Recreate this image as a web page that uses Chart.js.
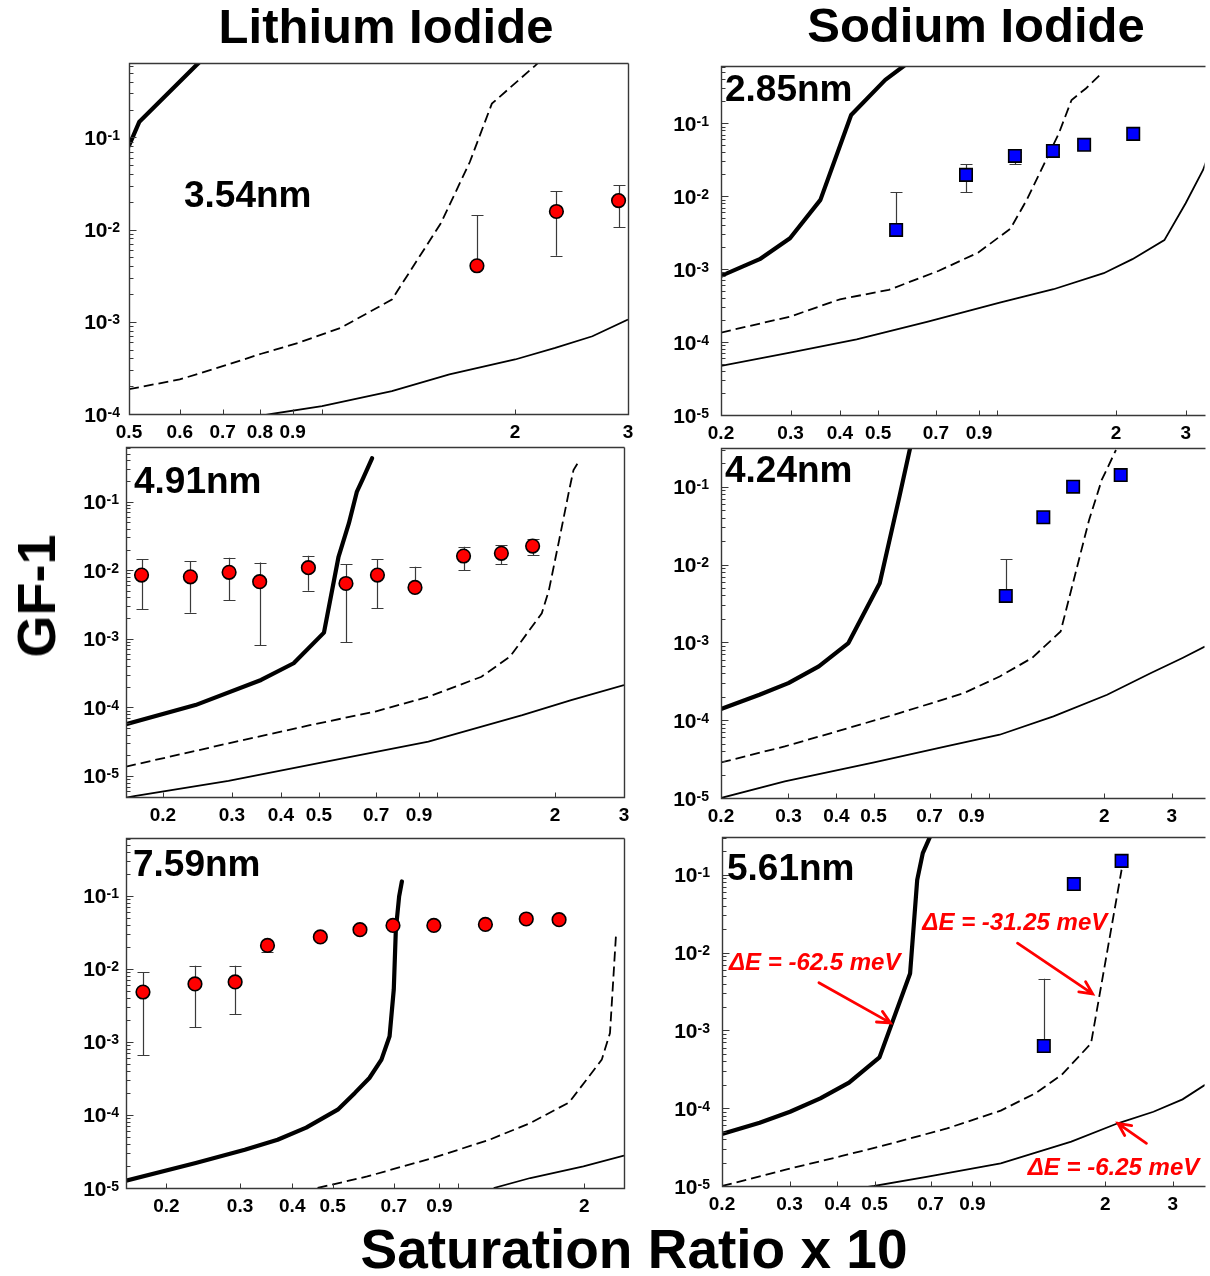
<!DOCTYPE html>
<html>
<head>
<meta charset="utf-8">
<script src="https://cdn.jsdelivr.net/npm/chart.js@4.4.1/dist/chart.umd.min.js"></script>
<style>
  html, body { margin: 0; padding: 0; background: #fff; }
  #page { position: relative; width: 1210px; height: 1276px; overflow: hidden; font-family: "Liberation Sans", Arial, sans-serif; }
  #page canvas { position: absolute; left: 0; top: 0; }
  .big { position: absolute; font-weight: bold; color: #000; white-space: nowrap; line-height: 1; }
</style>
</head>
<body>
<div id="page">
  <canvas id="c1" width="1215" height="1276"></canvas>
  <canvas id="c2" width="1215" height="1276"></canvas>
  <canvas id="c3" width="1215" height="1276"></canvas>
  <canvas id="c4" width="1215" height="1276"></canvas>
  <canvas id="c5" width="1215" height="1276"></canvas>
  <canvas id="c6" width="1215" height="1276"></canvas>
  <div class="big" style="font-size:49px; left:386px; top:2px; transform:translateX(-50%);">Lithium Iodide</div>
  <div class="big" style="font-size:49px; left:976px; top:1px; transform:translateX(-50%);">Sodium Iodide</div>
  <div class="big" style="font-size:54px; left:36px; top:596px; transform:translate(-50%,-50%) rotate(-90deg);">GF-1</div>
  <div class="big" style="font-size:55px; left:634px; top:1222px; transform:translateX(-50%);">Saturation Ratio x 10</div>
</div>
<script>
// ---- data (GF-1 vs saturation ratio x 10) ----
// theory curves: thick = dE -62.5 meV, dashed = dE -31.25 meV, thin = dE -6.25 meV

// Lithium iodide 3.54 nm
const li354ThickX = [0.5, 0.519, 0.636, 0.66];
const li354ThickY = [0.081, 0.148, 0.6, 0.77];
const li354DashX = [0.5, 0.6, 0.7, 0.804, 0.917, 1.07, 1.285, 1.532, 1.70, 1.84, 2.15, 2.2];
const li354DashY = [1.86e-4, 2.37e-4, 3.3e-4, 4.5e-4, 5.9e-4, 8.6e-4, 1.74e-3, 1.17e-2, 5.4e-2, 0.232, 0.6, 0.7];
const li354ThinX = [0.7, 0.834, 1.0, 1.285, 1.58, 2.0, 2.31, 2.64, 3.0];
const li354ThinY = [8.2e-5, 1e-4, 1.22e-4, 1.77e-4, 2.69e-4, 3.9e-4, 5.2e-4, 6.97e-4, 1.06e-3];
const li354PtsX = [1.744, 2.32, 2.90];
const li354PtsY = [4.05e-3, 1.57e-2, 2.06e-2];
const li354PtsLo = [4.05e-3, 5.2e-3, 1.06e-2];
const li354PtsHi = [1.44e-2, 2.62e-2, 3.04e-2];

// Sodium iodide 2.85 nm
const na285ThickX = [0.2, 0.2506, 0.299, 0.357, 0.427, 0.521, 0.578, 0.62];
const na285ThickY = [8.07e-4, 1.37e-3, 2.65e-3, 8.9e-3, 0.130, 0.394, 0.6, 0.8];
const na285DashX = [0.2, 0.299, 0.40, 0.532, 0.712, 0.896, 1.081, 1.188, 1.305, 1.433, 1.543, 1.677, 1.833];
const na285DashY = [1.35e-4, 2.23e-4, 3.86e-4, 5.2e-4, 9.5e-4, 1.69e-3, 3.6e-3, 8.9e-3, 2.55e-2, 7.3e-2, 0.209, 0.30, 0.476];
const na285ThinX = [0.2, 0.299, 0.441, 0.668, 1.015, 1.389, 1.861, 2.2, 2.65, 3.0, 3.32, 3.5];
const na285ThinY = [4.7e-5, 7.16e-5, 1.09e-4, 1.91e-4, 3.47e-4, 5.3e-4, 8.8e-4, 1.37e-3, 2.5e-3, 8.0e-3, 2.29e-2, 5e-2];
const na285PtsX = [0.555, 0.834, 1.109, 1.384, 1.66, 2.21];
const na285PtsY = [3.45e-3, 1.96e-2, 3.57e-2, 4.18e-2, 5.06e-2, 7.16e-2];
const na285PtsLo = [3.45e-3, 1.13e-2, 2.77e-2, 3.8e-2, 5.06e-2, 7.16e-2];
const na285PtsHi = [1.13e-2, 2.75e-2, 4.1e-2, 4.6e-2, 5.06e-2, 7.16e-2];

// Lithium iodide 4.91 nm
const li491ThickX = [0.161, 0.242, 0.356, 0.431, 0.515, 0.561, 0.596, 0.625, 0.648, 0.683];
const li491ThickY = [5.7e-5, 1.08e-4, 2.51e-4, 4.4e-4, 1.23e-3, 1.57e-2, 4.8e-2, 0.140, 0.218, 0.428];
const li491DashX = [0.161, 0.294, 0.474, 0.696, 0.951, 1.299, 1.536, 1.851, 1.93, 2.05, 2.175, 2.23, 2.31];
const li491DashY = [1.37e-5, 2.99e-5, 5.5e-5, 8.7e-5, 1.43e-4, 2.8e-4, 5.5e-4, 2.35e-3, 5.1e-3, 2.75e-2, 0.148, 0.289, 0.40];
const li491ThinX = [0.15, 0.169, 0.294, 0.522, 0.951, 1.651, 2.2, 3.0];
const li491ThinY = [4.5e-6, 5.1e-6, 8.5e-6, 1.62e-5, 3.16e-5, 7.7e-5, 1.28e-4, 2.12e-4];
const li491PtsX = [0.1764, 0.235, 0.295, 0.353, 0.47, 0.586, 0.705, 0.879, 1.169, 1.46, 1.754];
const li491PtsY = [8.5e-3, 8.0e-3, 9.3e-3, 6.8e-3, 1.09e-2, 6.4e-3, 8.5e-3, 5.6e-3, 1.61e-2, 1.76e-2, 2.25e-2];
const li491PtsLo = [2.69e-3, 2.40e-3, 3.64e-3, 8.1e-4, 5.0e-3, 8.9e-4, 2.79e-3, 5.6e-3, 1.0e-2, 1.22e-2, 1.67e-2];
const li491PtsHi = [1.46e-2, 1.36e-2, 1.52e-2, 1.29e-2, 1.63e-2, 1.22e-2, 1.46e-2, 1.12e-2, 2.2e-2, 2.33e-2, 2.82e-2];

// Sodium iodide 4.24 nm
const na424ThickX = [0.2, 0.252, 0.2998, 0.36, 0.43, 0.519, 0.584, 0.623, 0.64];
const na424ThickY = [1.39e-4, 2.12e-4, 2.99e-4, 4.9e-4, 9.8e-4, 5.75e-3, 7.4e-2, 0.314, 0.5];
const na424DashX = [0.2, 0.2934, 0.414, 0.584, 0.861, 1.067, 1.296, 1.539, 1.826, 1.97, 2.146];
const na424DashY = [2.86e-5, 4.6e-5, 7.5e-5, 1.23e-4, 2.23e-4, 3.64e-4, 6.3e-4, 1.38e-3, 3.74e-2, 0.122, 0.296];
const na424ThinX = [0.2, 0.2934, 0.502, 0.773, 1.067, 1.474, 2.035, 2.64, 3.2, 3.66];
const na424ThinY = [1e-5, 1.63e-5, 2.86e-5, 4.6e-5, 6.5e-5, 1.116e-4, 2.12e-4, 4.0e-4, 6.3e-4, 8.8e-4];
const na424PtsX = [1.107, 1.387, 1.659, 2.208];
const na424PtsY = [3.95e-3, 4.05e-2, 0.1, 0.141];
const na424PtsLo = [3.95e-3, 4.05e-2, 0.1, 0.141];
const na424PtsHi = [1.17e-2, 4.05e-2, 0.1, 0.141];

// Lithium iodide 7.59 nm
const li759ThickX = [0.16, 0.235, 0.308, 0.369, 0.432, 0.514, 0.565, 0.612, 0.654, 0.684, 0.70, 0.708, 0.721, 0.732];
const li759ThickY = [1.26e-5, 2.2e-5, 3.34e-5, 4.58e-5, 6.7e-5, 1.18e-4, 2.0e-4, 3.2e-4, 5.7e-4, 1.19e-3, 5.2e-3, 3.4e-2, 9.75e-2, 0.156];
const li759DashX = [0.46, 0.605, 0.867, 1.187, 1.486, 1.84, 2.203, 2.305, 2.384];
const li759DashY = [1e-5, 1.44e-5, 2.57e-5, 4.58e-5, 7.75e-5, 1.48e-4, 5.7e-4, 1.32e-3, 3.08e-2];
const li759ThinX = [1.214, 1.486, 1.991, 2.49];
const li759ThinY = [1e-5, 1.37e-5, 1.97e-5, 2.77e-5];
const li759PtsX = [0.1757, 0.234, 0.292, 0.349, 0.467, 0.581, 0.697, 0.873, 1.16, 1.453, 1.741];
const li759PtsY = [4.8e-3, 6.2e-3, 6.6e-3, 2.08e-2, 2.72e-2, 3.42e-2, 3.91e-2, 3.91e-2, 4.04e-2, 4.79e-2, 4.68e-2];
const li759PtsLo = [6.5e-4, 1.59e-3, 2.4e-3, 1.67e-2, 2.72e-2, 3.42e-2, 3.91e-2, 3.91e-2, 4.04e-2, 4.79e-2, 4.68e-2];
const li759PtsHi = [8.9e-3, 1.1e-2, 1.1e-2, 2.2e-2, 2.72e-2, 3.42e-2, 3.91e-2, 3.91e-2, 4.04e-2, 4.79e-2, 4.68e-2];

// Sodium iodide 5.61 nm
const na561ThickX = [0.2, 0.2508, 0.301, 0.361, 0.429, 0.515, 0.619, 0.646, 0.668, 0.697, 0.72];
const na561ThickY = [4.67e-5, 6.5e-5, 9.0e-5, 1.34e-4, 2.13e-4, 4.5e-4, 5.4e-3, 8.6e-2, 0.19, 0.305, 0.45];
const na561DashX = [0.2, 0.2915, 0.411, 0.556, 0.773, 1.067, 1.315, 1.539, 1.835, 2.205];
const na561DashY = [1e-5, 1.61e-5, 2.43e-5, 3.54e-5, 5.5e-5, 9.3e-5, 1.56e-4, 2.68e-4, 6.8e-4, 0.116];
const na561ThinX = [0.45, 0.499, 0.689, 1.067, 1.63, 2.156, 2.67, 3.18, 3.64];
const na561ThinY = [9.3e-6, 1e-5, 1.32e-5, 1.96e-5, 3.71e-5, 6.4e-5, 9.0e-5, 1.3e-4, 2.0e-4];
const na561PtsX = [1.382, 1.655, 2.205];
const na561PtsY = [6.3e-4, 7.6e-2, 0.151];
const na561PtsLo = [6.3e-4, 7.6e-2, 0.151];
const na561PtsHi = [4.6e-3, 7.6e-2, 0.151];

// curve labels in the 5.61 nm panel (data coordinates)
const noteText = ['\u0394E = -62.5 meV', '\u0394E = -31.25 meV', '\u0394E = -6.25 meV'];
const noteX = [0.349, 1.161, 2.1];
const noteY = [7.7e-3, 2.51e-2, 1.77e-5];
const arrowFromX = [0.358, 1.18, 2.56];
const arrowFromY = [4.1e-3, 1.32e-2, 3.54e-5];
const arrowToX = [0.55, 1.853, 2.156];
const arrowToY = [1.25e-3, 2.95e-3, 6.4e-5];

// x tick marks / labels
const xTicksLiSmall = [0.5, 0.6, 0.7, 0.8, 0.9, 1, 2, 3];
const xLabelsLiSmall = ['0.5', '0.6', '0.7', '0.8', '0.9', '', '2', '3'];
const xTicksStd = [0.2, 0.3, 0.4, 0.5, 0.7, 0.9, 1, 2, 3];
const xLabelsStd = ['0.2', '0.3', '0.4', '0.5', '0.7', '0.9', '', '2', '3'];

const W = 1215, H = 1276;
const FONT = '"Liberation Sans", Arial, sans-serif';

const panels = [
  { id: 'c1', area: [129, 63, 628, 414], x: [0.5, 3.0], y: [1e-4, 0.64], marker: 'circle',
    name: '3.54nm', nameAt: [55, 131], gap: 9, box: true, ticks: [xTicksLiSmall, xLabelsLiSmall],
    thick: [li354ThickX, li354ThickY], dash: [li354DashX, li354DashY], thin: [li354ThinX, li354ThinY],
    pts: [li354PtsX, li354PtsY, li354PtsLo, li354PtsHi] },
  { id: 'c2', area: [721, 66, 1212, 415], x: [0.2, 3.35], y: [1e-5, 0.61], marker: 'rect',
    name: '2.85nm', nameAt: [4, 22], gap: 12, box: false, ticks: [xTicksStd, xLabelsStd],
    thick: [na285ThickX, na285ThickY], dash: [na285DashX, na285DashY], thin: [na285ThinX, na285ThinY],
    pts: [na285PtsX, na285PtsY, na285PtsLo, na285PtsHi] },
  { id: 'c3', area: [126, 447, 624, 797], x: [0.161, 3.0], y: [4.94e-6, 0.625], marker: 'circle',
    name: '4.91nm', nameAt: [8, 33], gap: 7, box: true, ticks: [xTicksStd, xLabelsStd],
    thick: [li491ThickX, li491ThickY], dash: [li491DashX, li491DashY], thin: [li491ThinX, li491ThinY],
    pts: [li491PtsX, li491PtsY, li491PtsLo, li491PtsHi] },
  { id: 'c4', area: [721, 448, 1212, 798], x: [0.2, 3.655], y: [1e-5, 0.314], marker: 'rect',
    name: '4.24nm', nameAt: [4, 21], gap: 12, box: false, ticks: [xTicksStd, xLabelsStd],
    thick: [na424ThickX, na424ThickY], dash: [na424DashX, na424DashY], thin: [na424ThinX, na424ThinY],
    pts: [na424PtsX, na424PtsY, na424PtsLo, na424PtsHi] },
  { id: 'c5', area: [126, 838, 624, 1188], x: [0.16, 2.49], y: [1e-5, 0.614], marker: 'circle',
    name: '7.59nm', nameAt: [7, 25], gap: 7, box: true, ticks: [xTicksStd, xLabelsStd],
    thick: [li759ThickX, li759ThickY], dash: [li759DashX, li759DashY], thin: [li759ThinX, li759ThinY],
    pts: [li759PtsX, li759PtsY, li759PtsLo, li759PtsHi] },
  { id: 'c6', area: [722, 837, 1212, 1186], x: [0.2, 3.63], y: [1e-5, 0.306], marker: 'rect',
    name: '5.61nm', nameAt: [5, 30], gap: 12, box: false, ticks: [xTicksStd, xLabelsStd],
    thick: [na561ThickX, na561ThickY], dash: [na561DashX, na561DashY], thin: [na561ThinX, na561ThinY],
    pts: [na561PtsX, na561PtsY, na561PtsLo, na561PtsHi], notes: true }
];

const toXY = (xs, ys) => xs.map((v, i) => ({ x: v, y: ys[i] }));
const crisp = v => Math.round(v) + 0.5;

function decoPlugin(p) {
  return {
    id: 'deco',
    // error bars sit under the markers
    beforeDatasetsDraw(chart) {
      const { ctx, chartArea: a, scales: { x, y } } = chart;
      const [xs, ys, lo, hi] = p.pts;
      ctx.save();
      ctx.beginPath();
      ctx.rect(a.left, a.top, a.right - a.left, a.bottom - a.top);
      ctx.clip();
      ctx.strokeStyle = '#3a3a3a';
      ctx.lineWidth = 1.2;
      xs.forEach((xv, i) => {
        if (lo[i] >= ys[i] && hi[i] <= ys[i]) return;
        const px = crisp(x.getPixelForValue(xv));
        const yLo = y.getPixelForValue(lo[i]);
        const yHi = y.getPixelForValue(hi[i]);
        ctx.beginPath();
        ctx.moveTo(px, yLo);
        ctx.lineTo(px, yHi);
        if (hi[i] > ys[i]) { ctx.moveTo(px - 6, crisp(yHi)); ctx.lineTo(px + 6, crisp(yHi)); }
        if (lo[i] < ys[i]) { ctx.moveTo(px - 6, crisp(yLo)); ctx.lineTo(px + 6, crisp(yLo)); }
        ctx.stroke();
      });
      ctx.restore();
    },
    afterDraw(chart) {
      const { ctx, chartArea: a, scales: { x, y } } = chart;
      const L = crisp(a.left), T = crisp(a.top), R = crisp(a.right), B = crisp(a.bottom);
      ctx.save();

      // frame
      ctx.strokeStyle = '#383838';
      ctx.lineWidth = 1.4;
      ctx.beginPath();
      ctx.moveTo(R, T); ctx.lineTo(L, T); ctx.lineTo(L, B); ctx.lineTo(R, B);
      if (p.box) ctx.lineTo(R, T);
      ctx.stroke();

      // y ticks (inward, decade + minor)
      ctx.lineWidth = 1;
      ctx.beginPath();
      const k0 = Math.floor(Math.log10(p.y[0])), k1 = Math.ceil(Math.log10(p.y[1]));
      for (let k = k0; k <= k1; k++) {
        for (let m = 1; m <= 9; m++) {
          const v = m * Math.pow(10, k);
          if (v < p.y[0] * 0.999 || v > p.y[1]) continue;
          const py = crisp(y.getPixelForValue(v));
          ctx.moveTo(L, py);
          ctx.lineTo(L + (m === 1 ? 7 : 4), py);
        }
      }
      // x ticks (inward)
      const [tv, tl] = p.ticks;
      tv.forEach(v => {
        if (v < p.x[0] * 0.999 || v > p.x[1] * 1.001) return;
        const px = crisp(x.getPixelForValue(v));
        ctx.moveTo(px, B);
        ctx.lineTo(px, B - 5);
      });
      ctx.stroke();

      // y labels 10^k
      ctx.fillStyle = '#000';
      for (let k = Math.ceil(Math.log10(p.y[0]) - 1e-9); k <= Math.floor(Math.log10(p.y[1])); k++) {
        const py = y.getPixelForValue(Math.pow(10, k));
        const sup = String(k);
        ctx.font = 'bold 14px ' + FONT;
        const ws = ctx.measureText(sup).width;
        ctx.font = 'bold 21px ' + FONT;
        const wb = ctx.measureText('10').width;
        const right = a.left - p.gap;
        ctx.textAlign = 'left';
        ctx.textBaseline = 'alphabetic';
        ctx.fillText('10', right - ws - wb, py + 7.5);
        ctx.font = 'bold 14px ' + FONT;
        ctx.fillText(sup, right - ws, py + 2.5);
      }

      // x labels
      ctx.font = 'bold 19px ' + FONT;
      ctx.textAlign = 'center';
      ctx.textBaseline = 'middle';
      tv.forEach((v, i) => {
        if (!tl[i] || v < p.x[0] * 0.999 || v > p.x[1] * 1.001) return;
        ctx.fillText(tl[i], x.getPixelForValue(v), a.bottom + 19);
      });

      // panel size label
      ctx.font = 'bold 37px ' + FONT;
      ctx.textAlign = 'left';
      ctx.textBaseline = 'alphabetic';
      ctx.fillText(p.name, a.left + p.nameAt[0], a.top + p.nameAt[1] + 13.2);

      // curve annotations
      if (p.notes) {
        ctx.fillStyle = '#ff0000';
        ctx.strokeStyle = '#ff0000';
        ctx.font = 'italic bold 24px ' + FONT;
        ctx.textAlign = 'center';
        noteText.forEach((t, i) => {
          ctx.fillText(t, x.getPixelForValue(noteX[i]), y.getPixelForValue(noteY[i]) + 8.6);
          const fx = x.getPixelForValue(arrowFromX[i]), fy = y.getPixelForValue(arrowFromY[i]);
          const tx = x.getPixelForValue(arrowToX[i]), ty = y.getPixelForValue(arrowToY[i]);
          const ang = Math.atan2(ty - fy, tx - fx);
          ctx.lineWidth = 2.8;
          ctx.lineCap = 'round';
          ctx.beginPath();
          ctx.moveTo(fx, fy);
          ctx.lineTo(tx, ty);
          ctx.moveTo(tx - 14 * Math.cos(ang - 0.45), ty - 14 * Math.sin(ang - 0.45));
          ctx.lineTo(tx, ty);
          ctx.lineTo(tx - 14 * Math.cos(ang + 0.45), ty - 14 * Math.sin(ang + 0.45));
          ctx.stroke();
        });
      }
      ctx.restore();
    }
  };
}

panels.forEach(p => {
  const [l, t, r, b] = p.area;
  const lineBase = { type: 'line', pointRadius: 0, fill: false, tension: 0, borderColor: '#000', clip: 0 };
  new Chart(document.getElementById(p.id), {
    type: 'line',
    data: {
      datasets: [
        { data: toXY(p.pts[0], p.pts[1]), showLine: false, order: 0,
          pointStyle: p.marker, pointRadius: p.marker === 'rect' ? 8.8 : 6.8,
          pointBackgroundColor: p.marker === 'rect' ? '#0000ff' : '#ff0000',
          pointBorderColor: '#000', pointBorderWidth: 1.6 },
        { ...lineBase, data: toXY(p.thick[0], p.thick[1]), borderWidth: 4.2, order: 1,
          borderJoinStyle: 'round', borderCapStyle: 'round' },
        { ...lineBase, data: toXY(p.dash[0], p.dash[1]), borderWidth: 1.8, borderDash: [10, 5], order: 2 },
        { ...lineBase, data: toXY(p.thin[0], p.thin[1]), borderWidth: 1.8, order: 3 }
      ]
    },
    options: {
      responsive: false,
      animation: false,
      devicePixelRatio: 1,
      events: [],
      layout: { padding: { left: l, top: t, right: W - r, bottom: H - b } },
      scales: {
        x: { type: 'logarithmic', min: p.x[0], max: p.x[1], display: false },
        y: { type: 'logarithmic', min: p.y[0], max: p.y[1], display: false }
      },
      plugins: { legend: { display: false }, tooltip: { enabled: false } }
    },
    plugins: [decoPlugin(p)]
  });
});
</script>
</body>
</html>
